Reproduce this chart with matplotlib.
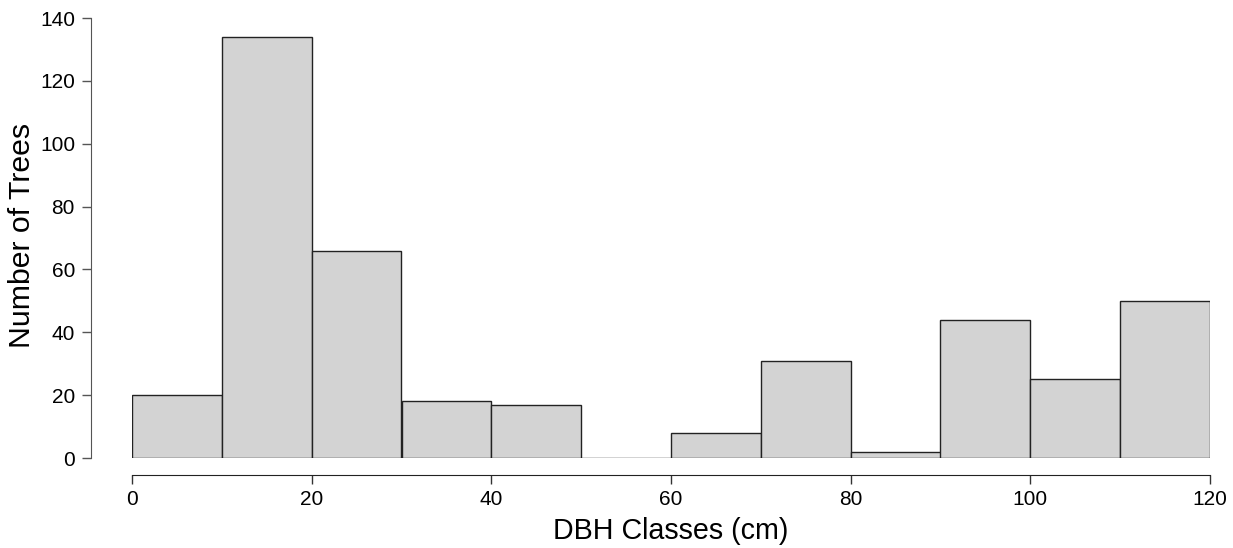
import numpy as np
import matplotlib.pyplot as plt

plt.rcParams['font.family'] = ['Liberation Sans', 'DejaVu Sans']

# Histogram of DBH classes (cm)
bin_edges = [0, 10, 20, 30, 40, 50, 60, 70, 80, 90, 100, 110, 120]
counts = [20, 134, 66, 18, 17, 0, 8, 31, 2, 44, 25, 50]
x_ticks = [0, 20, 40, 60, 80, 100, 120]
y_ticks = [0, 20, 40, 60, 80, 100, 120, 140]

W, H = 1233, 548
PX = 72 / 100  # points per pixel at dpi 100
fig = plt.figure(figsize=(W / 100, H / 100), dpi=100)
ax = fig.add_axes([132 / W, (H - 458) / H, (1210 - 132) / W, (458 - 18) / H])

edges = np.array(bin_edges)
ax.bar(edges[:-1], counts, width=np.diff(edges), align='edge',
       color='#d3d3d3', edgecolor='#222222', linewidth=1.0)

ax.set_xlim(0, 120)
ax.set_ylim(0, 140)
ax.set_xticks(x_ticks)
ax.set_yticks(y_ticks)

# R-style detached axes
for side in ['top', 'right']:
    ax.spines[side].set_visible(False)
ax.spines['bottom'].set_position(('outward', 17 * PX))
ax.spines['left'].set_position(('outward', 41 * PX))
ax.spines['bottom'].set_bounds(0, 120)
ax.spines['left'].set_bounds(0, 140)
ax.spines['bottom'].set_color('#222222')
ax.spines['left'].set_color('#555555')
ax.tick_params(axis='both', length=9 * PX, width=1, labelsize=15,
               colors='#333333', labelcolor='black')
ax.tick_params(axis='y', colors='#555555', labelcolor='black', pad=7 * PX)
ax.tick_params(axis='x', pad=6 * PX)

ax.set_xlabel('DBH Classes (cm)', fontsize=20.6)
ax.set_ylabel('Number of Trees', fontsize=21.8, va='center')
ax.yaxis.set_label_coords(22 / W, (H - 235) / H, transform=fig.transFigure)
ax.xaxis.set_label_coords((132 + 1210) / 2 / W, (H - 531) / H,
                          transform=fig.transFigure)
ax.xaxis.label.set_va('center')

fig.savefig('out.png', dpi=100)
